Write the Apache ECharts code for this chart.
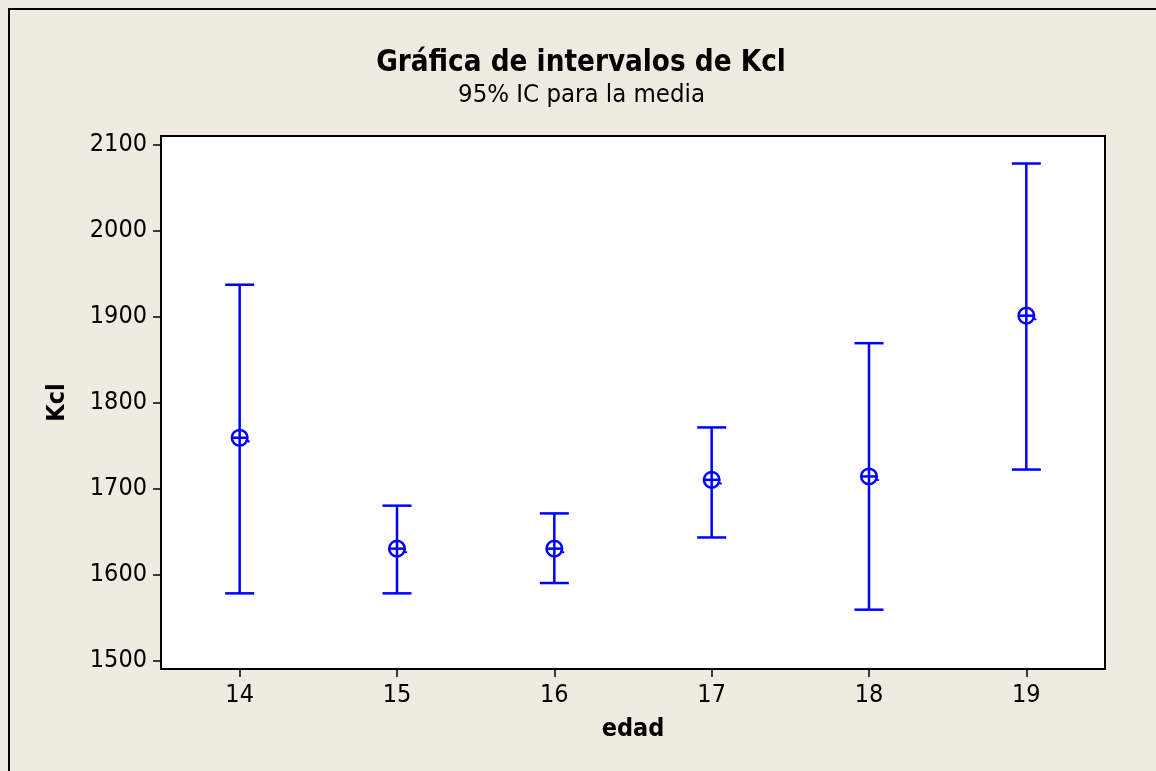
<!DOCTYPE html>
<html>
<head>
<meta charset="utf-8">
<script src="https://cdn.jsdelivr.net/npm/echarts@6/dist/echarts.min.js"></script>
<style>
  html, body { margin: 0; padding: 0; background: #efebe1; }
  #chart { width: 1156px; height: 771px; }
</style>
</head>
<body>
<div id="chart"></div>
<script>
// Interval plot: 95% confidence interval of the mean of Kcl by age
const ages = [14, 15, 16, 17, 18, 19];
const lowerCI = [1578, 1578, 1590, 1643, 1559, 1722];
const meanKcl = [1759, 1630, 1630, 1710, 1714, 1901];
const upperCI = [1937, 1680, 1671, 1771, 1869, 2078];
const yTicks = [1500, 1600, 1700, 1800, 1900, 2000, 2100];

const FONT = "'DejaVu Sans Condensed', 'DejaVu Sans', sans-serif";
const BLUE = '#0000ff';

const rows = ages.map((a, i) => [a, lowerCI[i], meanKcl[i], upperCI[i]]);

function renderInterval(params, api) {
  const x = api.value(0);
  const lo = api.coord([x, api.value(1)]);
  const mid = api.coord([x, api.value(2)]);
  const hi = api.coord([x, api.value(3)]);
  const cap = 14.5;
  const r = 7.8;
  const ls = { stroke: BLUE, lineWidth: 2.5, fill: null };
  return {
    type: 'group',
    children: [
      { type: 'line', shape: { x1: lo[0], y1: lo[1], x2: hi[0], y2: hi[1] }, style: ls },
      { type: 'line', shape: { x1: hi[0] - cap, y1: hi[1], x2: hi[0] + cap, y2: hi[1] }, style: ls },
      { type: 'line', shape: { x1: lo[0] - cap, y1: lo[1], x2: lo[0] + cap, y2: lo[1] }, style: ls },
      { type: 'circle', shape: { cx: mid[0], cy: mid[1], r: r }, style: { stroke: BLUE, lineWidth: 2.5, fill: null } },
      { type: 'line', shape: { x1: mid[0] - r, y1: mid[1], x2: mid[0] + r, y2: mid[1] }, style: ls },
      { type: 'line', shape: { x1: mid[0] + 6, y1: mid[1] + 2.5, x2: mid[0] + 10, y2: mid[1] + 4 }, style: { stroke: BLUE, lineWidth: 2 } }
    ]
  };
}

const plain = v => String(v);

const chart = echarts.init(document.getElementById('chart'), null, { renderer: 'canvas' });
chart.setOption({
  backgroundColor: '#efebe1',
  animation: false,
  graphic: [
    { type: 'rect', shape: { x: 9, y: 9, width: 1300, height: 900 },
      style: { fill: null, stroke: '#000', lineWidth: 2 }, z: 100 },
    { type: 'text', x: 581, y: 63,
      style: { text: 'Gráfica de intervalos de Kcl', font: "bold 29.3px " + FONT, fill: '#000',
               textAlign: 'center', textVerticalAlign: 'middle' } },
    { type: 'text', x: 581.5, y: 95,
      style: { text: '95% IC para la media', font: "25.5px " + FONT, fill: '#000',
               textAlign: 'center', textVerticalAlign: 'middle' } }
  ],
  grid: {
    left: 161, top: 136, right: 51, bottom: 102,
    show: true, backgroundColor: '#ffffff', borderColor: '#000', borderWidth: 2
  },
  xAxis: {
    type: 'value', min: 13.5, max: 19.5,
    name: 'edad', nameLocation: 'middle', nameGap: 48,
    nameTextStyle: { fontFamily: FONT, fontWeight: 'bold', fontSize: 25, color: '#000' },
    axisLine: { show: false },
    axisTick: { show: true, length: 8, customValues: ages, lineStyle: { color: '#000', width: 1.5 } },
    axisLabel: { customValues: ages, formatter: plain, margin: 14, fontFamily: FONT, fontSize: 25, color: '#000' },
    splitLine: { show: false }
  },
  yAxis: {
    type: 'value', min: 1490, max: 2110,
    name: 'Kcl', nameLocation: 'middle', nameGap: 91, nameRotate: 90,
    nameTextStyle: { fontFamily: FONT, fontWeight: 'bold', fontSize: 25, color: '#000' },
    axisLine: { show: false },
    axisTick: { show: true, length: 8, customValues: yTicks, lineStyle: { color: '#000', width: 1.5 } },
    axisLabel: { customValues: yTicks, formatter: plain, margin: 14, fontFamily: FONT, fontSize: 25, color: '#000' },
    splitLine: { show: false }
  },
  series: [{
    type: 'custom',
    name: 'IC 95%',
    renderItem: renderInterval,
    encode: { x: 0, y: [1, 2, 3] },
    data: rows,
    clip: false
  }]
});
</script>
</body>
</html>
